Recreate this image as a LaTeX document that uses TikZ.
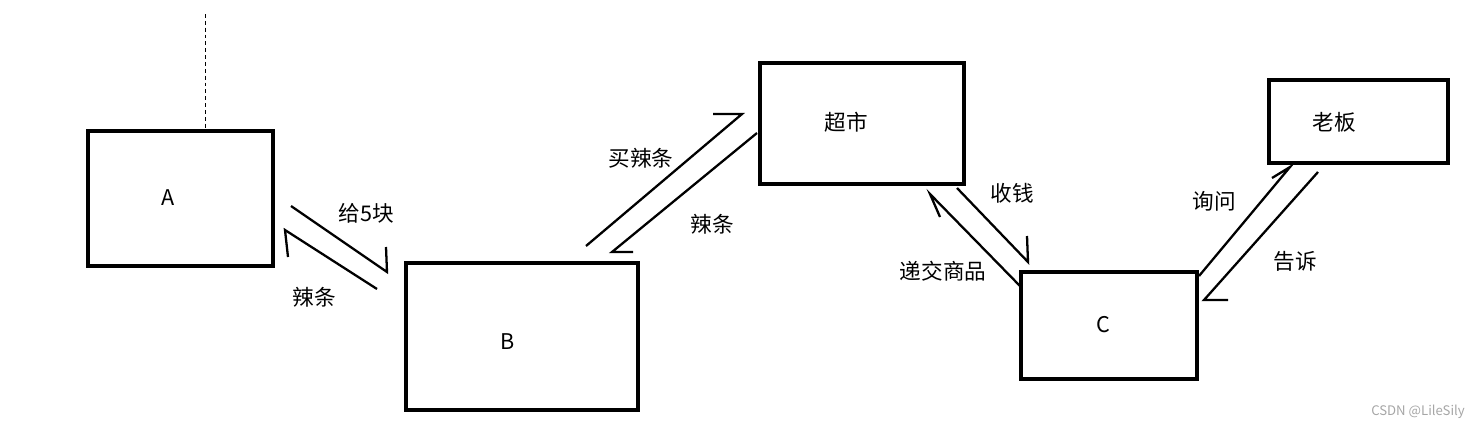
\documentclass[tikz,border=0pt]{standalone}
\usepackage{fontspec}
\setmainfont{Noto Sans CJK SC}
\usetikzlibrary{positioning}
\tikzset{
  box/.style={draw, line width=1.8pt, inner sep=0pt},
  lbl/.style={font=\fontsize{12.3}{14}\selectfont, inner sep=0pt},
  harp/.style={line width=1.3pt, line join=miter},
}

\begin{document}
\begin{tikzpicture}[x=0.02cm, y=-0.02cm]
        \useasboundingbox (0,0) rectangle (1480,430);
        % boxes
        \node[box, minimum width=3.7cm, minimum height=2.7cm] (A) at (180.5,198.5) {};
        \node[box, minimum width=4.64cm, minimum height=2.94cm] (B) at (522,336.5) {};
        \node[box, minimum width=4.08cm, minimum height=2.42cm] (shop) at (862,123.5) {};
        \node[box, minimum width=3.52cm, minimum height=2.14cm] (C) at (1109,325.5) {};
        \node[box, minimum width=3.58cm, minimum height=1.66cm] (boss) at (1358.5,121.5) {};
        \node[lbl] (Alab) at (168,198) {A};
        \node[lbl] (Blab) at (508,342) {B};
        \node[lbl] (shoplab) at (846,122) {超市};
        \node[lbl] (Clab) at (1103,325) {C};
        \node[lbl] (bosslab) at (1334,122) {老板};
        % dashed mark above A
        \coordinate (dtop) at (205,14);
        \draw[line width=0.5pt, dash pattern=on 2.2pt off 1.7pt] (dtop) -- (dtop |- A.north);
        % half arrows: start / tip / barb
        \foreach \n/\s/\t/\b in {ab/{291,206}/{387,272}/{386,247}, ba/{377,289}/{285,230}/{288,257},
          bs/{586,246}/{742,114}/{713,114}, sb/{757,133}/{612,252}/{633,252},
          sc/{957,188}/{1028,262}/{1027,236}, cs/{1020,286}/{930,194}/{940,217},
          cb/{1199,276}/{1290,167}/{1272,178}, bc/{1318,172}/{1204,300}/{1228,300}}{
          \coordinate (\n-s) at (\s);
          \coordinate (\n-t) at (\t);
          \coordinate (\n-b) at (\b);
          \draw[harp] (\n-s) -- (\n-t) -- (\n-b);
        }
        \foreach \n/\p/\txt in {l1/{366,213}/给5块, l2/{314,297}/辣条, l3/{641,158}/买辣条, l4/{712,224}/辣条,
          l5/{1012,193}/收钱, l6/{943,271}/递交商品, l7/{1214,201}/询问, l8/{1295,261}/告诉}{
          \node[lbl] (\n) at (\p) {\txt};
        }
        \node[font=\fontsize{7.5}{9}\selectfont, text=gray!70, inner sep=0pt] (mark) at (1418,412) {CSDN @LileSily};
      \end{tikzpicture}
\end{document}
